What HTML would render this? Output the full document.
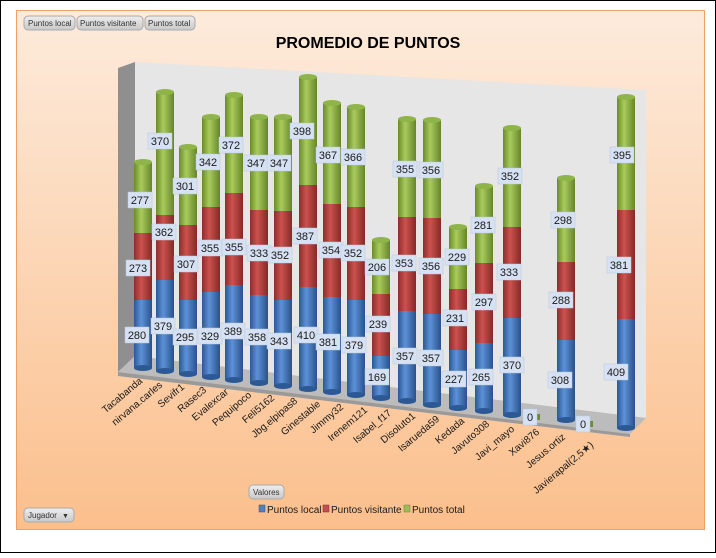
<!DOCTYPE html>
<html><head><meta charset="utf-8">
<style>
html,body{margin:0;padding:0;background:#fff;}
body{width:716px;height:553px;overflow:hidden;font-family:"Liberation Sans",sans-serif;}
</style></head>
<body>
<svg width="716" height="553" viewBox="0 0 716 553" xmlns="http://www.w3.org/2000/svg" font-family="Liberation Sans, sans-serif">
<defs>
<linearGradient id="bg" x1="0" y1="0" x2="0" y2="1">
<stop offset="0" stop-color="#fdebdc"/><stop offset="1" stop-color="#fbbf8c"/></linearGradient>
<linearGradient id="bl" x1="0" y1="0" x2="1" y2="0">
<stop offset="0" stop-color="#2c5893"/><stop offset="0.4" stop-color="#5c91d8"/><stop offset="1" stop-color="#2a5189"/></linearGradient>
<linearGradient id="rd" x1="0" y1="0" x2="1" y2="0">
<stop offset="0" stop-color="#8c2d2b"/><stop offset="0.4" stop-color="#cc524e"/><stop offset="1" stop-color="#852927"/></linearGradient>
<linearGradient id="gr" x1="0" y1="0" x2="1" y2="0">
<stop offset="0" stop-color="#6c8b2c"/><stop offset="0.4" stop-color="#a8cb5c"/><stop offset="1" stop-color="#66852a"/></linearGradient>
<linearGradient id="btn" x1="0" y1="0" x2="0" y2="1">
<stop offset="0" stop-color="#eeeeee"/><stop offset="1" stop-color="#c8c8c8"/></linearGradient>
<g id="cb"></g>
</defs>
<rect x="0.5" y="0.5" width="715" height="552" fill="#fff" stroke="#000"/>
<rect x="16.5" y="10.5" width="688" height="519" fill="url(#bg)" stroke="#f0a060"/>
<!-- buttons -->
<g font-size="8" fill="#333">
<rect x="24" y="16" width="51" height="14" rx="4" fill="url(#btn)" stroke="#aaa"/><text x="28" y="26">Puntos local</text>
<rect x="77" y="16" width="66" height="14" rx="4" fill="url(#btn)" stroke="#aaa"/><text x="80" y="26">Puntos visitante</text>
<rect x="145" y="16" width="50" height="14" rx="4" fill="url(#btn)" stroke="#aaa"/><text x="148" y="26">Puntos total</text>
<rect x="24" y="508" width="50" height="14" rx="4" fill="url(#btn)" stroke="#aaa"/><text x="28" y="518">Jugador</text><text x="62" y="518" font-size="7">▼</text>
<rect x="249" y="485" width="35" height="14" rx="4" fill="url(#btn)" stroke="#aaa"/><text x="253" y="495">Valores</text>
</g>
<text x="368" y="48" text-anchor="middle" font-size="16" font-weight="bold" fill="#000">PROMEDIO DE PUNTOS</text>
<!-- walls -->
<polygon points="135,62 646,90 646,418 135,356" fill="#e6e6e6"/>
<polygon points="118,68 135,62 135,356 118,372" fill="#8f8f8f"/>
<polygon points="118,372 135,356 646,418 630,434" fill="#bcbcbc"/>
<polygon points="118,372 630,434 630,437 118,376" fill="#9a9a9a"/>
<!-- bars -->
<g>
<g><rect x="134" y="300" width="18" height="68" fill="url(#bl)"/><ellipse cx="143" cy="368" rx="9" ry="3" fill="#2c5893"/><rect x="134" y="233" width="18" height="67" fill="url(#rd)"/><rect x="134" y="162" width="18" height="71" fill="url(#gr)"/><ellipse cx="143" cy="162" rx="9" ry="3" fill="#8fb44a"/></g>
<g><rect x="156" y="280" width="18" height="91" fill="url(#bl)"/><ellipse cx="165" cy="371" rx="9" ry="3" fill="#2c5893"/><rect x="156" y="215" width="18" height="65" fill="url(#rd)"/><rect x="156" y="92" width="18" height="123" fill="url(#gr)"/><ellipse cx="165" cy="92" rx="9" ry="3" fill="#8fb44a"/></g>
<g><rect x="179" y="300" width="18" height="74" fill="url(#bl)"/><ellipse cx="188" cy="374" rx="9" ry="3" fill="#2c5893"/><rect x="179" y="225" width="18" height="75" fill="url(#rd)"/><rect x="179" y="147" width="18" height="78" fill="url(#gr)"/><ellipse cx="188" cy="147" rx="9" ry="3" fill="#8fb44a"/></g>
<g><rect x="202" y="292" width="18" height="85" fill="url(#bl)"/><ellipse cx="211" cy="377" rx="9" ry="3" fill="#2c5893"/><rect x="202" y="207" width="18" height="85" fill="url(#rd)"/><rect x="202" y="117" width="18" height="90" fill="url(#gr)"/><ellipse cx="211" cy="117" rx="9" ry="3" fill="#8fb44a"/></g>
<g><rect x="225" y="285" width="18" height="95" fill="url(#bl)"/><ellipse cx="234" cy="380" rx="9" ry="3" fill="#2c5893"/><rect x="225" y="193" width="18" height="92" fill="url(#rd)"/><rect x="225" y="95" width="18" height="98" fill="url(#gr)"/><ellipse cx="234" cy="95" rx="9" ry="3" fill="#8fb44a"/></g>
<g><rect x="250" y="295" width="18" height="88" fill="url(#bl)"/><ellipse cx="259" cy="383" rx="9" ry="3" fill="#2c5893"/><rect x="250" y="210" width="18" height="85" fill="url(#rd)"/><rect x="250" y="117" width="18" height="93" fill="url(#gr)"/><ellipse cx="259" cy="117" rx="9" ry="3" fill="#8fb44a"/></g>
<g><rect x="274" y="300" width="18" height="86" fill="url(#bl)"/><ellipse cx="283" cy="386" rx="9" ry="3" fill="#2c5893"/><rect x="274" y="211" width="18" height="89" fill="url(#rd)"/><rect x="274" y="117" width="18" height="94" fill="url(#gr)"/><ellipse cx="283" cy="117" rx="9" ry="3" fill="#8fb44a"/></g>
<g><rect x="299" y="287" width="18" height="102" fill="url(#bl)"/><ellipse cx="308" cy="389" rx="9" ry="3" fill="#2c5893"/><rect x="299" y="185" width="18" height="102" fill="url(#rd)"/><rect x="299" y="77" width="18" height="108" fill="url(#gr)"/><ellipse cx="308" cy="77" rx="9" ry="3" fill="#8fb44a"/></g>
<g><rect x="323" y="297" width="18" height="95" fill="url(#bl)"/><ellipse cx="332" cy="392" rx="9" ry="3" fill="#2c5893"/><rect x="323" y="204" width="18" height="93" fill="url(#rd)"/><rect x="323" y="103" width="18" height="101" fill="url(#gr)"/><ellipse cx="332" cy="103" rx="9" ry="3" fill="#8fb44a"/></g>
<g><rect x="347" y="300" width="18" height="95" fill="url(#bl)"/><ellipse cx="356" cy="395" rx="9" ry="3" fill="#2c5893"/><rect x="347" y="207" width="18" height="93" fill="url(#rd)"/><rect x="347" y="107" width="18" height="100" fill="url(#gr)"/><ellipse cx="356" cy="107" rx="9" ry="3" fill="#8fb44a"/></g>
<g><rect x="372" y="356" width="18" height="42" fill="url(#bl)"/><ellipse cx="381" cy="398" rx="9" ry="3" fill="#2c5893"/><rect x="372" y="294" width="18" height="62" fill="url(#rd)"/><rect x="372" y="240" width="18" height="54" fill="url(#gr)"/><ellipse cx="381" cy="240" rx="9" ry="3" fill="#8fb44a"/></g>
<g><rect x="398" y="311" width="18" height="90" fill="url(#bl)"/><ellipse cx="407" cy="401" rx="9" ry="3" fill="#2c5893"/><rect x="398" y="217" width="18" height="94" fill="url(#rd)"/><rect x="398" y="119" width="18" height="98" fill="url(#gr)"/><ellipse cx="407" cy="119" rx="9" ry="3" fill="#8fb44a"/></g>
<g><rect x="423" y="314" width="18" height="91" fill="url(#bl)"/><ellipse cx="432" cy="405" rx="9" ry="3" fill="#2c5893"/><rect x="423" y="218" width="18" height="96" fill="url(#rd)"/><rect x="423" y="120" width="18" height="98" fill="url(#gr)"/><ellipse cx="432" cy="120" rx="9" ry="3" fill="#8fb44a"/></g>
<g><rect x="449" y="350" width="18" height="58" fill="url(#bl)"/><ellipse cx="458" cy="408" rx="9" ry="3" fill="#2c5893"/><rect x="449" y="289" width="18" height="61" fill="url(#rd)"/><rect x="449" y="227" width="18" height="62" fill="url(#gr)"/><ellipse cx="458" cy="227" rx="9" ry="3" fill="#8fb44a"/></g>
<g><rect x="475" y="343" width="18" height="68" fill="url(#bl)"/><ellipse cx="484" cy="411" rx="9" ry="3" fill="#2c5893"/><rect x="475" y="263" width="18" height="80" fill="url(#rd)"/><rect x="475" y="186" width="18" height="77" fill="url(#gr)"/><ellipse cx="484" cy="186" rx="9" ry="3" fill="#8fb44a"/></g>
<g><rect x="503" y="318" width="18" height="97" fill="url(#bl)"/><ellipse cx="512" cy="415" rx="9" ry="3" fill="#2c5893"/><rect x="503" y="227" width="18" height="91" fill="url(#rd)"/><rect x="503" y="128" width="18" height="99" fill="url(#gr)"/><ellipse cx="512" cy="128" rx="9" ry="3" fill="#8fb44a"/></g>
<g><rect x="557" y="340" width="18" height="80" fill="url(#bl)"/><ellipse cx="566" cy="420" rx="9" ry="3" fill="#2c5893"/><rect x="557" y="262" width="18" height="78" fill="url(#rd)"/><rect x="557" y="178" width="18" height="84" fill="url(#gr)"/><ellipse cx="566" cy="178" rx="9" ry="3" fill="#8fb44a"/></g>
<g><rect x="617" y="319" width="18" height="109" fill="url(#bl)"/><ellipse cx="626" cy="428" rx="9" ry="3" fill="#2c5893"/><rect x="617" y="210" width="18" height="109" fill="url(#rd)"/><rect x="617" y="97" width="18" height="113" fill="url(#gr)"/><ellipse cx="626" cy="97" rx="9" ry="3" fill="#8fb44a"/></g>
<rect x="536" y="414" width="4" height="6" fill="#6c8b2c"/><rect x="589" y="421" width="4" height="6" fill="#6c8b2c"/>
</g>
<!-- data labels -->
<g font-size="11" fill="#1a1a1a" text-anchor="middle">
<g fill="#d6e2f3" stroke="#b8c8e0" stroke-width="0.5">
<rect x="128" y="192" width="24" height="16"/><rect x="126" y="260" width="24" height="16"/><rect x="125" y="327" width="24" height="16"/>
<rect x="148" y="133" width="24" height="16"/><rect x="152" y="224" width="24" height="16"/><rect x="151" y="318" width="24" height="16"/>
<rect x="173" y="178" width="24" height="16"/><rect x="174" y="256" width="24" height="16"/><rect x="173" y="329" width="24" height="16"/>
<rect x="196" y="154" width="24" height="16"/><rect x="198" y="240" width="24" height="16"/><rect x="198" y="328" width="24" height="16"/>
<rect x="219" y="137" width="24" height="16"/><rect x="222" y="239" width="24" height="16"/><rect x="221" y="323" width="24" height="16"/>
<rect x="244" y="155" width="24" height="16"/><rect x="247" y="245" width="24" height="16"/><rect x="245" y="329" width="24" height="16"/>
<rect x="267" y="155" width="24" height="16"/><rect x="268" y="247" width="24" height="16"/><rect x="267" y="333" width="24" height="16"/>
<rect x="290" y="123" width="24" height="16"/><rect x="293" y="228" width="24" height="16"/><rect x="294" y="327" width="24" height="16"/>
<rect x="316" y="147" width="24" height="16"/><rect x="319" y="242" width="24" height="16"/><rect x="316" y="334" width="24" height="16"/>
<rect x="341" y="149" width="24" height="16"/><rect x="341" y="245" width="24" height="16"/><rect x="342" y="337" width="24" height="16"/>
<rect x="365" y="259" width="24" height="16"/><rect x="366" y="316" width="24" height="16"/><rect x="365" y="369" width="24" height="16"/>
<rect x="393" y="161" width="24" height="16"/><rect x="392" y="255" width="24" height="16"/><rect x="393" y="348" width="24" height="16"/>
<rect x="419" y="162" width="24" height="16"/><rect x="419" y="258" width="24" height="16"/><rect x="419" y="350" width="24" height="16"/>
<rect x="445" y="249" width="24" height="16"/><rect x="443" y="310" width="24" height="16"/><rect x="442" y="371" width="24" height="16"/>
<rect x="471" y="217" width="24" height="16"/><rect x="472" y="294" width="24" height="16"/><rect x="469" y="369" width="24" height="16"/>
<rect x="498" y="168" width="24" height="16"/><rect x="497" y="264" width="24" height="16"/><rect x="500" y="357" width="24" height="16"/>
<rect x="523" y="409" width="14" height="16"/>
<rect x="551" y="212" width="24" height="16"/><rect x="549" y="292" width="24" height="16"/><rect x="548" y="372" width="24" height="16"/>
<rect x="576" y="416" width="14" height="16"/>
<rect x="610" y="147" width="24" height="16"/><rect x="607" y="257" width="24" height="16"/><rect x="604" y="364" width="24" height="16"/>
</g>
<text x="140" y="204">277</text><text x="138" y="272">273</text><text x="137" y="339">280</text>
<text x="160" y="145">370</text><text x="164" y="236">362</text><text x="163" y="330">379</text>
<text x="185" y="190">301</text><text x="186" y="268">307</text><text x="185" y="341">295</text>
<text x="208" y="166">342</text><text x="210" y="252">355</text><text x="210" y="340">329</text>
<text x="231" y="149">372</text><text x="234" y="251">355</text><text x="233" y="335">389</text>
<text x="256" y="167">347</text><text x="259" y="257">333</text><text x="257" y="341">358</text>
<text x="279" y="167">347</text><text x="280" y="259">352</text><text x="279" y="345">343</text>
<text x="302" y="135">398</text><text x="305" y="240">387</text><text x="306" y="339">410</text>
<text x="328" y="159">367</text><text x="331" y="254">354</text><text x="328" y="346">381</text>
<text x="353" y="161">366</text><text x="353" y="257">352</text><text x="354" y="349">379</text>
<text x="377" y="271">206</text><text x="378" y="328">239</text><text x="377" y="381">169</text>
<text x="405" y="173">355</text><text x="404" y="267">353</text><text x="405" y="360">357</text>
<text x="431" y="174">356</text><text x="431" y="270">356</text><text x="431" y="362">357</text>
<text x="457" y="261">229</text><text x="455" y="322">231</text><text x="454" y="383">227</text>
<text x="483" y="229">281</text><text x="484" y="306">297</text><text x="481" y="381">265</text>
<text x="510" y="180">352</text><text x="509" y="276">333</text><text x="512" y="369">370</text>
<text x="530" y="421">0</text>
<text x="563" y="224">298</text><text x="561" y="304">288</text><text x="560" y="384">308</text>
<text x="583" y="428">0</text>
<text x="622" y="159">395</text><text x="619" y="269">381</text><text x="616" y="376">409</text>
</g>
<!-- category labels -->
<g font-size="10" fill="#1a1a1a" text-anchor="end">
<text transform="translate(143,382) rotate(-40)">Tacabanda</text>
<text transform="translate(163,386) rotate(-40)">nirvana.carles</text>
<text transform="translate(185,388) rotate(-40)">Sevifr1</text>
<text transform="translate(207,391) rotate(-40)">Rasec3</text>
<text transform="translate(229,393) rotate(-40)">Evalexcar</text>
<text transform="translate(252,396) rotate(-40)">Pequipoco</text>
<text transform="translate(275,399) rotate(-40)">Feli5162</text>
<text transform="translate(298,402) rotate(-40)">Jbg.elpipas8</text>
<text transform="translate(321,405) rotate(-40)">Ginestable</text>
<text transform="translate(344,408) rotate(-40)">Jimmy32</text>
<text transform="translate(368,411) rotate(-40)">Irenem121</text>
<text transform="translate(392,414) rotate(-40)">Isabel_f17</text>
<text transform="translate(416,417) rotate(-40)">Disoluto1</text>
<text transform="translate(440,420) rotate(-40)">Isarueda59</text>
<text transform="translate(465,422) rotate(-40)">Kedada</text>
<text transform="translate(490,425) rotate(-40)">Javuto308</text>
<text transform="translate(515,430) rotate(-40)">Javi_mayo</text>
<text transform="translate(540,433) rotate(-40)">Xavi876</text>
<text transform="translate(566,438) rotate(-40)">Jesus.ortiz</text>
<text transform="translate(594,446) rotate(-40)">Javierapal(2,5★)</text>
</g>
<!-- legend -->
<g font-size="10" fill="#1a1a1a">
<rect x="259" y="505" width="6" height="7" fill="#4f81bd" stroke="#2c5893" stroke-width="0.5"/><text x="267" y="513">Puntos local</text>
<rect x="323" y="505" width="6" height="7" fill="#c0504d" stroke="#8c2d2b" stroke-width="0.5"/><text x="331" y="513">Puntos visitante</text>
<rect x="404" y="505" width="6" height="7" fill="#9bbb59" stroke="#6c8b2c" stroke-width="0.5"/><text x="412" y="513">Puntos total</text>
</g>
</svg>
</body></html>
